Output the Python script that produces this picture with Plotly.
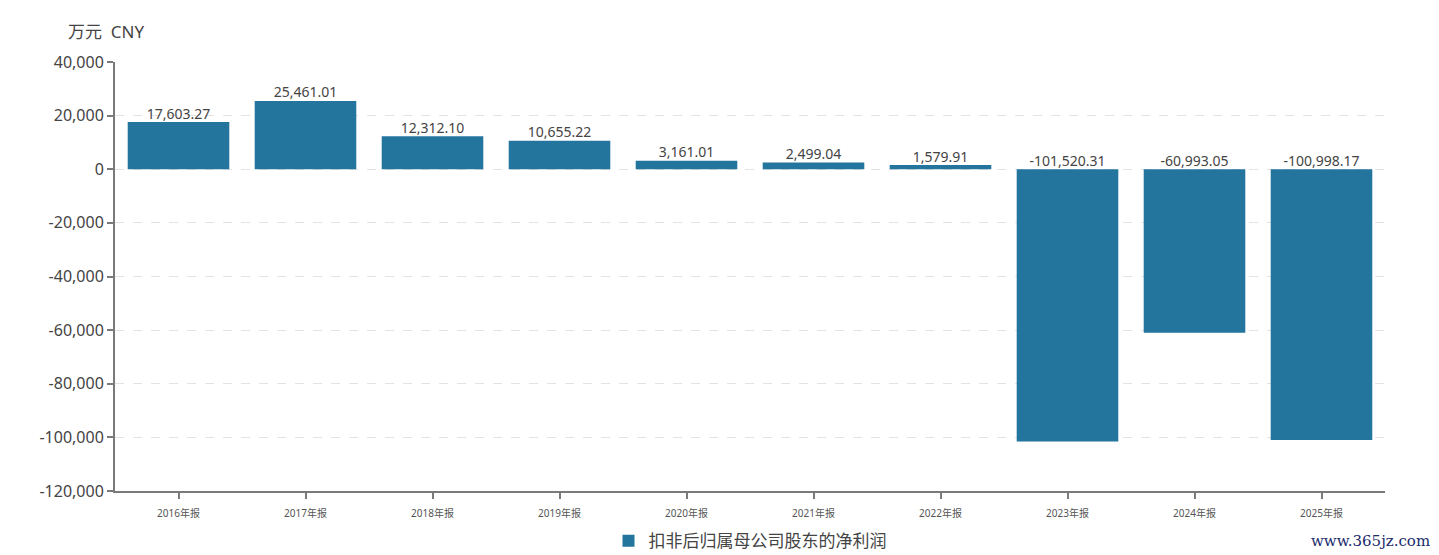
import plotly.graph_objects as go

categories = ["2016年报", "2017年报", "2018年报", "2019年报", "2020年报",
              "2021年报", "2022年报", "2023年报", "2024年报", "2025年报"]
values = [17603.27, 25461.01, 12312.10, 10655.22, 3161.01,
          2499.04, 1579.91, -101520.31, -60993.05, -100998.17]
series_name = "扣非后归属母公司股东的净利润"
unit_label = "万元  CNY"
y_ticks = [40000, 20000, 0, -20000, -40000, -60000, -80000, -100000, -120000]

bar_color = "#23759e"
axis_color = "#7a7a7a"
font_family = "Noto Sans, Noto Sans CJK SC, sans-serif"

fig = go.Figure()
fig.add_trace(go.Bar(
    x=categories, y=values, name=series_name,
    marker=dict(color=bar_color, line=dict(width=0)),
    hoverinfo="x+y",
))
fig.add_trace(go.Scatter(
    x=categories, y=[max(v, 0) for v in values],
    mode="text",
    text=[f"{v:,.2f}" for v in values],
    textposition="top center",
    textfont=dict(size=14, color="#444444", family=font_family),
    showlegend=False, hoverinfo="skip", cliponaxis=False,
))

# page body has an 8px default margin, so the figure is sized/shifted to compensate
fig.update_layout(
    width=1431, height=547,
    margin=dict(l=107, r=54, t=54, b=64, autoexpand=False),
    paper_bgcolor="white", plot_bgcolor="white",
    bargap=0.2,
    font=dict(family=font_family, color="#444444"),
    showlegend=True,
    legend=dict(orientation="h", x=0.5, xanchor="center", y=-0.117, yanchor="middle",
                font=dict(size=17, color="#444444"), itemsizing="constant"),
    annotations=[
        dict(text=unit_label, xref="paper", yref="paper", x=-0.0386, y=1.07,
             xanchor="left", yanchor="middle", showarrow=False,
             font=dict(size=17, color="#444444")),
        dict(text="www.365jz.com", xref="paper", yref="paper", x=1.037, y=-0.117,
             xanchor="right", yanchor="middle", showarrow=False,
             font=dict(size=15, color="#1a2a6c", family="DejaVu Serif, serif")),
    ],
)
fig.update_xaxes(
    showline=True, linecolor=axis_color, linewidth=2,
    ticks="outside", ticklen=6, tickcolor=axis_color, tickwidth=1.5,
    tickfont=dict(size=10, color="#555555"), ticklabelstandoff=6,
    showgrid=False,
)
fig.update_yaxes(
    range=[-120000, 40000],
    tickmode="array", tickvals=y_ticks, ticktext=[f"{t:,d}" for t in y_ticks],
    showline=True, linecolor=axis_color, linewidth=2,
    ticks="outside", ticklen=6, tickcolor=axis_color, tickwidth=1.5,
    tickfont=dict(size=16, color="#444444"),
    showgrid=True, gridcolor="#e3e3e3", griddash="dash", gridwidth=1,
    zeroline=False,
)

fig.write_html("out.html")
